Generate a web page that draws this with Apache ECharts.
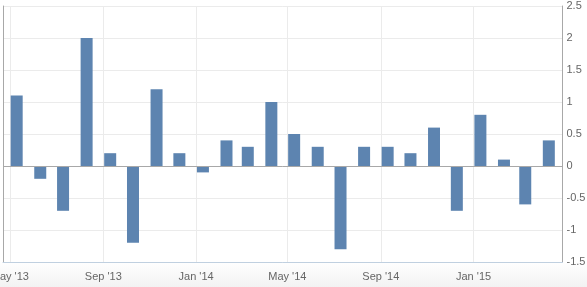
<!DOCTYPE html>
<html>
<head>
<meta charset="utf-8">
<script src="https://cdn.jsdelivr.net/npm/echarts@6/dist/echarts.min.js"></script>
<style>
html,body{margin:0;padding:0;background:#fff;}
#chart{width:587px;height:287px;}
</style>
</head>
<body>
<div id="chart"></div>
<script>
const months = ['2013-05','2013-06','2013-07','2013-08','2013-09','2013-10','2013-11','2013-12',
  '2014-01','2014-02','2014-03','2014-04','2014-05','2014-06','2014-07','2014-08','2014-09','2014-10','2014-11','2014-12',
  '2015-01','2015-02','2015-03','2015-04'];
const values = [1.1,-0.2,-0.7,2.0,0.2,-1.2,1.2,0.2,
  -0.1,0.4,0.3,1.0,0.5,0.3,-1.3,0.3,0.3,0.2,0.6,-0.7,
  0.8,0.1,-0.6,0.4];
const tickDates = ['2013-05-01','2013-09-01','2014-01-01','2014-05-01','2014-09-01','2015-01-01'];
const monthNames = ['Jan','Feb','Mar','Apr','May','Jun','Jul','Aug','Sep','Oct','Nov','Dec'];

const DAY = 86400000;
const toDays = s => Date.parse(s + 'T00:00:00Z') / DAY;
const tickDays = tickDates.map(toDays);
const barData = months.map((m, i) => [toDays(m + '-01') + 9, values[i]]);
const xMin = toDays('2013-04-22');
const xMax = toDays('2015-04-28');

const chart = echarts.init(document.getElementById('chart'), null, {renderer: 'canvas'});
const labelStyle = {color: '#666', fontSize: 11, fontFamily: 'Liberation Sans, Arial, sans-serif'};

chart.setOption({
  animation: false,
  backgroundColor: '#fff',
  graphic: [{
    type: 'rect', z: -10, silent: true,
    shape: {x: 0, y: 262, width: 587, height: 25},
    style: {fill: new echarts.graphic.LinearGradient(0, 0, 0, 1, [
      {offset: 0, color: '#ffffff'}, {offset: 1, color: '#f2f2f2'}])}
  }],
  grid: {left: 3, right: 24.5, top: 6, bottom: 25, containLabel: false, outerBoundsMode: 'none'},
  xAxis: {
    type: 'value',
    min: xMin, max: xMax,
    axisLine: {show: true, onZero: false, lineStyle: {color: '#c0d0e0', width: 1}},
    axisTick: {show: false, customValues: tickDays},
    axisLabel: Object.assign({
      customValues: tickDays,
      margin: 9,
      hideOverlap: false,
      showMinLabel: true,
      showMaxLabel: true,
      formatter: function (v) {
        const d = new Date(Math.round(v) * DAY);
        return monthNames[d.getUTCMonth()] + " '" + String(d.getUTCFullYear()).slice(2);
      }
    }, labelStyle),
    splitLine: {show: true, lineStyle: {color: '#ebebeb', width: 1}}
  },
  yAxis: [{
    type: 'value',
    position: 'right',
    min: -1.5, max: 2.5, interval: 0.5,
    axisLine: {show: true, lineStyle: {color: '#a8a8a8'}},
    axisTick: {show: false},
    axisLabel: Object.assign({
      margin: 4,
      formatter: function (v) { return String(Math.round(v * 10) / 10); }
    }, labelStyle),
    splitLine: {show: true, lineStyle: {color: '#ebebeb', width: 1}}
  }, {
    type: 'value',
    position: 'left',
    min: -1.5, max: 2.5, interval: 0.5,
    axisLine: {show: true, lineStyle: {color: '#a8a8a8'}},
    axisTick: {show: false},
    axisLabel: {show: false},
    splitLine: {show: false}
  }],
  series: [{
    type: 'bar',
    yAxisIndex: 0,
    data: barData,
    barWidth: 12,
    itemStyle: {color: '#5d84b0'},
    markLine: {
      silent: true,
      symbol: ['none', 'none'],
      label: {show: false},
      lineStyle: {color: '#a8a8a8', type: 'solid', width: 1},
      data: [{yAxis: 0}]
    }
  }]
});
</script>
</body>
</html>
